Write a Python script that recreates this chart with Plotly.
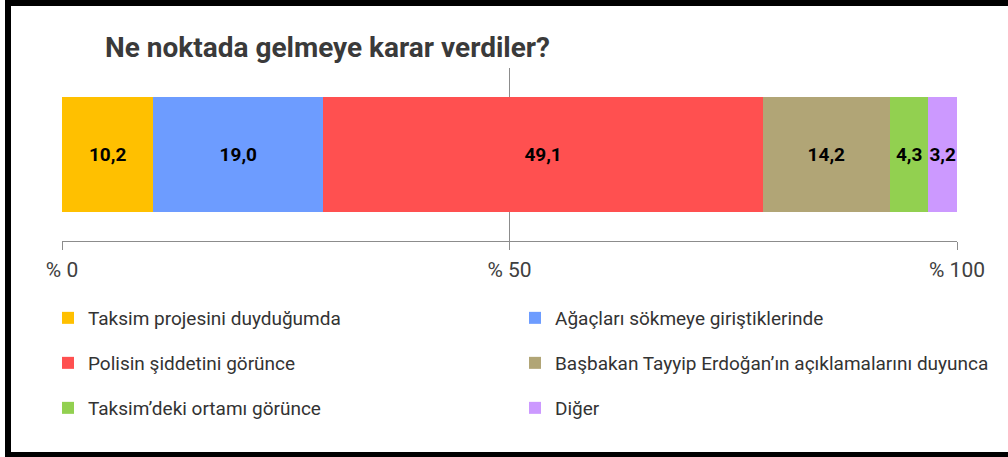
import plotly.graph_objects as go

# survey answers, share in percent
answers = [
    "Taksim projesini duyduğumda",
    "Ağaçları sökmeye giriştiklerinde",
    "Polisin şiddetini görünce",
    "Başbakan Tayyip Erdoğan’ın açıklamalarını duyunca",
    "Taksim’deki ortamı görünce",
    "Diğer",
]
shares = [10.2, 19.0, 49.1, 14.2, 4.3, 3.2]
colors = ["#FFC000", "#6D9CFF", "#FF5050", "#B1A576", "#92D050", "#CC99FF"]
tick_vals = [0, 50, 100]
tick_text = ["% 0", "% 50", "% 100"]

W, H = 1008, 457
ML, MR, MT, MB = 62, 51, 68, 216
pw, ph = W - ML - MR, H - MT - MB

# two legend entries per row, one legend per row
legend_of = ["legend", "legend", "legend2", "legend2", "legend3", "legend3"]
entry_w = [422, 445, 422, 445, 422, 445]
row_y = [318, 363, 408]

traces = []
for name, val, col, leg, ew in zip(answers, shares, colors, legend_of, entry_w):
    traces.append(
        go.Bar(
            name=name,
            x=[val],
            y=[""],
            orientation="h",
            marker=dict(color=col, line=dict(width=0)),
            texttemplate="%{x:.1f}",
            textposition="inside",
            insidetextanchor="middle",
            textangle=0,
            textfont=dict(family="Roboto", size=19, color="black", weight="bold"),
            hoverinfo="name+x",
            legend=leg,
            legendwidth=ew,
        )
    )

fig = go.Figure(data=traces)

# legend sits left of and below the plot area so it may use the full width
leg_style = dict(
    orientation="h",
    x=(48 - ML) / pw,
    xanchor="left",
    yanchor="middle",
    font=dict(family="Roboto", size=19, color="#333333"),
    bgcolor="rgba(0,0,0,0)",
    traceorder="normal",
)

fig.update_layout(
    width=W,
    height=H,
    margin=dict(l=ML, r=MR, t=MT, b=MB),
    paper_bgcolor="white",
    plot_bgcolor="white",
    barmode="stack",
    bargap=0.33,
    separators=",.",
    uniformtext=dict(minsize=19, mode="show"),
    title=dict(
        text="<b>Ne noktada gelmeye karar verdiler?</b>",
        xref="container",
        yref="container",
        x=327.5 / W,
        xanchor="center",
        y=1 - 47 / H,
        yanchor="middle",
        font=dict(family="Roboto", size=28, color="#3a3a3a"),
    ),
    legend=dict(leg_style, y=(H - MB - row_y[0]) / ph),
    legend2=dict(leg_style, y=(H - MB - row_y[1]) / ph),
    legend3=dict(leg_style, y=(H - MB - row_y[2]) / ph),
    xaxis=dict(
        range=[0, 100],
        tickvals=tick_vals,
        ticktext=tick_text,
        showgrid=True,
        gridcolor="#8c8c8c",
        gridwidth=1,
        zeroline=False,
        showline=True,
        linecolor="#8c8c8c",
        linewidth=1,
        ticks="outside",
        ticklen=8,
        tickcolor="#8c8c8c",
        ticklabelstandoff=2,
        tickfont=dict(family="Roboto", size=21, color="#404040"),
        fixedrange=True,
    ),
    yaxis=dict(
        showticklabels=False,
        showgrid=False,
        zeroline=False,
        showline=False,
        ticks="",
        fixedrange=True,
    ),
)

# black frame around the picture (left, top and bottom visible)
fig.add_shape(
    type="rect",
    xref="paper",
    yref="paper",
    x0=(8 - ML) / pw,
    x1=(W + 10 - ML) / pw,
    y0=(H - MB - 455) / ph,
    y1=(H - MB - 3) / ph,
    line=dict(color="black", width=6),
    fillcolor="rgba(0,0,0,0)",
    layer="above",
)

fig.write_html(
    "out.html",
    config={"displayModeBar": False},
    post_script="document.body.style.margin='0';",
)
